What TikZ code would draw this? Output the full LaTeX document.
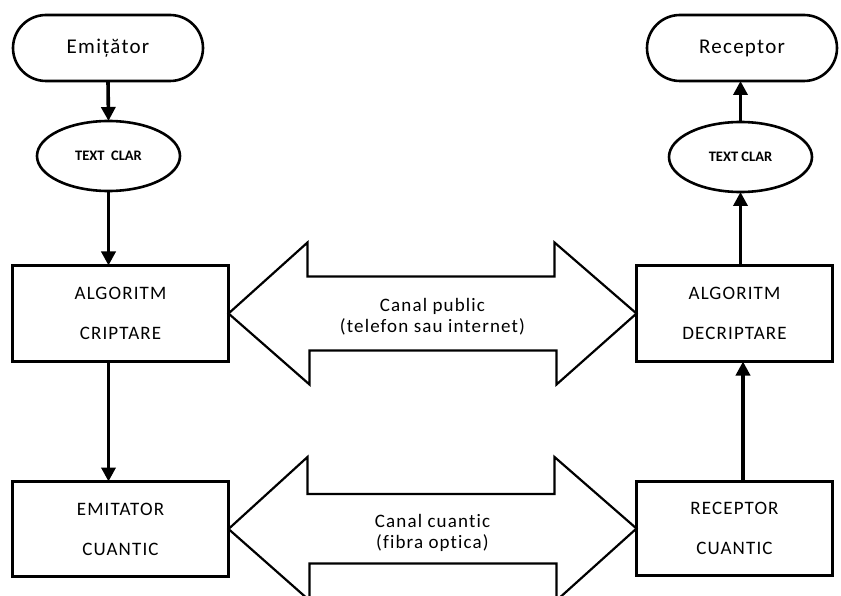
\documentclass[tikz,border=0pt]{standalone}
\usepackage{fontspec}
\setmainfont{Carlito}[Ligatures={NoCommon}]
\newfontfamily\spacedfont{Carlito}[LetterSpace=6,Ligatures={NoCommon}]
\usetikzlibrary{shapes.geometric,arrows.meta,calc}
\begin{document}
\begin{tikzpicture}[x=1pt,y=-1pt,
  every node/.style={inner sep=0pt,outer sep=0pt,text=black},
  terminal/.style={draw,line width=2.6pt,rectangle,rounded corners=33pt,
    minimum width=190pt,minimum height=66pt,font=\spacedfont\fontsize{21}{24}\selectfont},
  plain/.style={draw,line width=2.6pt,ellipse,minimum width=143pt,minimum height=70pt,
    font=\fontsize{14.5}{16}\selectfont\bfseries},
  block/.style={draw,line width=2.6pt,rectangle,align=center,
    font=\spacedfont\fontsize{19}{40}\selectfont},
  flow/.style={line width=3.6pt,-{Triangle[width=14pt,length=14pt]}},
  channel/.style={draw,line width=2.2pt,line join=miter,fill=white},
  chlabel/.style={align=center,font=\spacedfont\fontsize{19}{21}\selectfont}]
\clip (0,0) rectangle (841,596);
\fill[white] (0,0) rectangle (841,596);

% sender side
\node[terminal] (emit) at (108,48) {Emițător};
\node[plain] (tc1) at (108.5,156) {TEXT\ \ CLAR};
\node[block,minimum width=216pt,minimum height=96pt] (alg1) at (120.5,313.5) {ALGORITM\\CRIPTARE};
\node[block,minimum width=216pt,minimum height=95pt] (eq1) at (120.5,529) {EMITATOR\\CUANTIC};

% receiver side
\node[terminal] (rec) at (742,48) {Receptor};
\node[plain] (tc2) at (740.5,157) {TEXT CLAR};
\node[block,minimum width=196pt,minimum height=96pt] (alg2) at (734.5,313.5) {ALGORITM\\DECRIPTARE};
\node[block,minimum width=196pt,minimum height=94pt] (eq2) at (734.5,528.5) {RECEPTOR\\CUANTIC};

% flow arrows
\draw[flow] (emit.south) -- (tc1.north);
\draw[flow] (tc1.south) -- (alg1.north -| tc1.south);
\draw[flow] (alg1.south -| tc1.south) -- (eq1.north -| tc1.south);
\draw[flow] (eq2.north -| 743,0) -- (alg2.south -| 743,0);
\draw[flow] (alg2.north -| tc2.south) -- (tc2.south);
\draw[flow] (tc2.north) -- (rec.south -| tc2.north);

% public channel
\draw[channel] (alg1.east) -- ++(79,-71) -- ++(0,34) -- ++(247,0) -- ++(0,-34)
  -- (alg2.west) -- ++(-80,71) -- ++(0,-34) -- ++(-247,0) -- ++(0,34) -- cycle;
\node[chlabel] (pub) at ($(alg1.east)!0.5!(alg2.west)+(0,3)$) {Canal public\\(telefon sau internet)};

% quantum channel
\draw[channel] (eq1.east) -- ++(79,-72) -- ++(0,37) -- ++(247,0) -- ++(0,-37)
  -- (eq2.west) -- ++(-80,72) -- ++(0,-37) -- ++(-247,0) -- ++(0,37) -- cycle;
\node[chlabel] (qch) at ($(eq1.east)!0.5!(eq2.west)+(0,4)$) {Canal cuantic\\(fibra optica)};
\end{tikzpicture}
\end{document}
